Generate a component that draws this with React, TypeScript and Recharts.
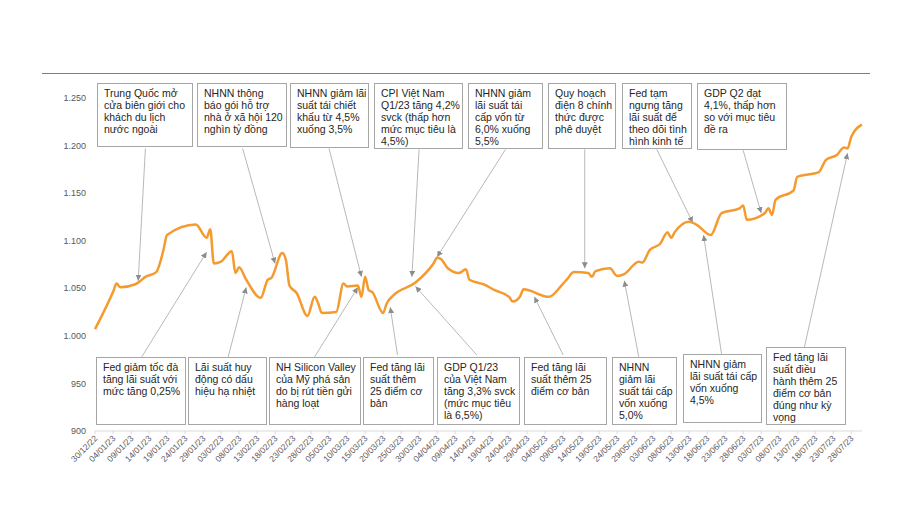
import React from 'react';
import { LineChart, Line, XAxis, YAxis, ReferenceLine } from 'recharts';

// VN-Index close, chart dates (dd/mm/yy)
const dates = [
  '30/12/22', '04/01/23', '05/01/23', '06/01/23', '10/01/23', '11/01/23', '13/01/23', '16/01/23', '18/01/23', '19/01/23',
  '27/01/23', '30/01/23', '31/01/23', '01/02/23', '03/02/23', '06/02/23', '07/02/23', '08/02/23', '10/02/23', '14/02/23',
  '16/02/23', '17/02/23', '20/02/23', '21/02/23', '22/02/23', '24/02/23', '27/02/23', '01/03/23', '02/03/23', '03/03/23',
  '07/03/23', '09/03/23', '10/03/23', '13/03/23', '14/03/23', '15/03/23', '16/03/23', '17/03/23', '20/03/23', '21/03/23',
  '23/03/23', '29/03/23', '03/04/23', '04/04/23', '05/04/23', '07/04/23', '10/04/23', '12/04/23', '13/04/23', '17/04/23',
  '20/04/23', '24/04/23', '25/04/23', '27/04/23', '28/04/23', '05/05/23', '09/05/23', '10/05/23', '12/05/23', '16/05/23',
  '17/05/23', '18/05/23', '22/05/23', '24/05/23', '26/05/23', '30/05/23', '31/05/23', '02/06/23', '05/06/23', '07/06/23',
  '08/06/23', '09/06/23', '13/06/23', '15/06/23', '19/06/23', '22/06/23', '27/06/23', '28/06/23', '29/06/23', '04/07/23',
  '05/07/23', '06/07/23', '07/07/23', '12/07/23', '13/07/23', '19/07/23', '21/07/23', '24/07/23', '26/07/23', '27/07/23',
  '28/07/23', '31/07/23',
];

const values = [
  1007, 1046, 1055, 1051, 1054, 1056, 1062, 1067, 1090, 1106,
  1117, 1103, 1112, 1076, 1078, 1089, 1066, 1072, 1059, 1040,
  1059, 1061, 1087, 1080, 1053, 1045, 1021, 1041, 1034, 1024,
  1025, 1055, 1052, 1053, 1041, 1062, 1048, 1046, 1024, 1034,
  1043, 1056, 1076, 1082, 1081, 1071, 1066, 1070, 1059, 1054,
  1048, 1041, 1036, 1041, 1049, 1041, 1055, 1059, 1067, 1066,
  1062, 1068, 1071, 1063, 1065, 1078, 1077, 1090, 1097, 1109,
  1103, 1109, 1120, 1117, 1106, 1129, 1134, 1137, 1122, 1129,
  1134, 1127, 1143, 1153, 1167, 1172, 1185, 1190, 1198, 1197,
  1209, 1222,
];

const tickLabels = [
  '30/12/22', '04/01/23', '09/01/23', '14/01/23', '19/01/23', '24/01/23', '29/01/23', '03/02/23', '08/02/23',
  '13/02/23', '18/02/23', '23/02/23', '28/02/23', '05/03/23', '10/03/23', '15/03/23', '20/03/23', '25/03/23',
  '30/03/23', '04/04/23', '09/04/23', '14/04/23', '19/04/23', '24/04/23', '29/04/23', '04/05/23', '09/05/23',
  '14/05/23', '19/05/23', '24/05/23', '29/05/23', '03/06/23', '08/06/23', '13/06/23', '18/06/23', '23/06/23',
  '28/06/23', '03/07/23', '08/07/23', '13/07/23', '18/07/23', '23/07/23', '28/07/23',
];

const yTicks = [900, 950, 1000, 1050, 1100, 1150, 1200, 1250];

// annotation texts
const topNotes = [
  ['Trung Quốc mở', 'cửa biên giới cho', 'khách du lịch', 'nước ngoài'],
  ['NHNN thông', 'báo gói hỗ trợ', 'nhà ở xã hội 120', 'nghìn tỷ đồng'],
  ['NHNN giảm lãi', 'suất tái chiết', 'khấu từ 4,5%', 'xuống 3,5%'],
  ['CPI Việt Nam', 'Q1/23 tăng 4,2%', 'svck (thấp hơn', 'mức mục tiêu là', '4,5%)'],
  ['NHNN giảm', 'lãi suất tái', 'cấp vốn từ', '6,0% xuống', '5,5%'],
  ['Quy hoạch', 'điện 8 chính', 'thức được', 'phê duyệt'],
  ['Fed tạm', 'ngưng tăng', 'lãi suất để', 'theo dõi tình', 'hình kinh tế'],
  ['GDP Q2 đạt', '4,1%, thấp hơn', 'so với mục tiêu', 'đề ra'],
];

const bottomNotes = [
  ['Fed giảm tốc đà', 'tăng lãi suất với', 'mức tăng 0,25%'],
  ['Lãi suất huy', 'động có dấu', 'hiệu hạ nhiệt'],
  ['NH Silicon Valley', 'của Mỹ phá sản', 'do bị rút tiền gửi', 'hàng loạt'],
  ['Fed tăng lãi', 'suất thêm', '25 điểm cơ', 'bản'],
  ['GDP Q1/23', 'của Việt Nam', 'tăng 3,3% svck', '(mức mục tiêu', 'là 6,5%)'],
  ['Fed tăng lãi', 'suất thêm 25', 'điểm cơ bản'],
  ['NHNN', 'giảm lãi', 'suất tái cấp', 'vốn xuống', '5,0%'],
  ['NHNN giảm', 'lãi suất tái cấp', 'vốn xuống', '4,5%'],
  ['Fed tăng lãi', 'suất điều', 'hành thêm 25', 'điểm cơ bản', 'đúng như kỳ', 'vọng'],
];

// arrows: [tail date, tail value, tip date, tip value]
const topArrows: [string, number, string, number][] = [
  ['13/01/23', 1197, '11/01/23', 1058],
  ['09/02/23', 1197, '18/02/23', 1076],
  ['05/03/23', 1197, '14/03/23', 1062],
  ['30/03/23', 1196, '28/03/23', 1062],
  ['23/04/23', 1196, '04/04/23', 1083],
  ['15/05/23', 1196, '15/05/23', 1071],
  ['04/06/23', 1196, '14/06/23', 1119],
  ['28/06/23', 1195, '03/07/23', 1129],
];

const bottomArrows: [string, number, string, number][] = [
  ['12/01/23', 978, '30/01/23', 1088],
  ['05/02/23', 978, '10/02/23', 1051],
  ['01/03/23', 978, '13/03/23', 1051],
  ['24/03/23', 980, '22/03/23', 1030],
  ['15/04/23', 980, '29/03/23', 1052],
  ['09/05/23', 980, '01/05/23', 1041],
  ['30/05/23', 978, '26/05/23', 1058],
  ['22/06/23', 981, '17/06/23', 1106],
  ['15/07/23', 988, '27/07/23', 1192],
];

// box layout [left, top, width, height]
const topBoxes = [
  [97, 83, 96, 64], [197, 83, 90, 64], [290, 83, 79, 65], [374, 83, 89, 66],
  [468, 83, 75, 66], [548, 83, 68, 66], [622, 83, 70, 66], [697, 83, 90, 67],
];
const bottomBoxes = [
  [96, 357, 90, 68], [188, 357, 79, 68], [269, 357, 92, 68], [363, 357, 71, 68], [437, 357, 83, 68],
  [524, 357, 83, 68], [612, 357, 65, 68], [683, 354, 79, 69], [766, 347, 80, 78],
];

const BASE = Date.UTC(2022, 11, 30);
const toDay = (s: string) => {
  const [d, m, y] = s.split('/').map(Number);
  return Math.round((Date.UTC(2000 + y, m - 1, d) - BASE) / 86400000);
};

const data = dates.map((d, i) => ({ day: toDay(d), value: values[i] }));
const xTicks = tickLabels.map(toDay);
const labelByDay: Record<number, string> = {};
tickLabels.forEach((l) => (labelByDay[toDay(l)] = l));

const FONT = '"Liberation Sans", Arial, sans-serif';
const fmt = (v: number) => String(v).replace(/\B(?=(\d{3})+(?!\d))/g, '.');

const XTick = (props: any) => {
  const { x, y, payload } = props;
  return (
    <g transform={`translate(${x + 3},${y + 3})`}>
      <text textAnchor="end" transform="rotate(-45)" fontSize={8.5} fill="#595959" fontFamily={FONT}>
        {labelByDay[payload.value]}
      </text>
    </g>
  );
};

const arrowShape = (p: any) => (
  <line x1={p.x1} y1={p.y1} x2={p.x2} y2={p.y2} stroke="#a6a6a6" strokeWidth={0.8} markerEnd="url(#arrowHead)" />
);

const NoteBox = ({ box, lines }: { box: number[]; lines: string[] }) => (
  <div
    style={{
      position: 'absolute',
      left: box[0],
      top: box[1],
      width: box[2],
      height: box[3],
      boxSizing: 'border-box',
      border: '1px solid #a6a6a6',
      background: '#fff',
      padding: '3px 0 0 6px',
      fontFamily: FONT,
      fontSize: 10.5,
      lineHeight: '12px',
      color: '#262626',
      whiteSpace: 'pre',
    }}
  >
    {lines.join('\n')}
  </div>
);

const App: React.FC = () => {
  return (
    <div style={{ position: 'absolute', left: 0, top: 0, width: 907, height: 509, background: '#fff' }}>
      <svg width={0} height={0} style={{ position: 'absolute' }}>
        <defs>
          <marker id="arrowHead" viewBox="0 0 6 6" refX={6} refY={3} markerWidth={6} markerHeight={6} markerUnits="userSpaceOnUse" orient="auto">
            <path d="M0,0 L6,3 L0,6 z" fill="#8c8c8c" />
          </marker>
        </defs>
      </svg>
      <div style={{ position: 'absolute', left: 42, top: 73, width: 828, borderTop: '1.5px solid #7f7f7f' }} />
      <LineChart width={907} height={509} data={data} margin={{ top: 98, right: 45, bottom: 8, left: 55 }}>
        <XAxis
          dataKey="day"
          type="number"
          domain={[0, 213]}
          ticks={xTicks}
          interval={0}
          height={70}
          axisLine={{ stroke: '#d9d9d9' }}
          tickLine={{ stroke: '#d9d9d9' }}
          tickSize={3}
          tickMargin={2}
          tick={<XTick />}
        />
        <YAxis
          type="number"
          domain={[900, 1250]}
          ticks={yTicks}
          width={40}
          axisLine={false}
          tickLine={false}
          tickSize={0}
          tickMargin={9}
          tickFormatter={fmt}
          tick={{ fontSize: 9, fill: '#595959', fontFamily: FONT }}
        />
        {topArrows.concat(bottomArrows).map((a, i) => (
          <ReferenceLine
            key={i}
            segment={[{ x: toDay(a[0]), y: a[1] }, { x: toDay(a[2]), y: a[3] }]}
            shape={arrowShape}
            ifOverflow="visible"
          />
        ))}
        <Line
          type="monotone"
          dataKey="value"
          stroke="#f59a2f"
          strokeWidth={2.5}
          dot={false}
          isAnimationActive={false}
        />
      </LineChart>
      {topNotes.map((lines, i) => (
        <NoteBox key={'t' + i} box={topBoxes[i]} lines={lines} />
      ))}
      {bottomNotes.map((lines, i) => (
        <NoteBox key={'b' + i} box={bottomBoxes[i]} lines={lines} />
      ))}
    </div>
  );
};

export default App;
